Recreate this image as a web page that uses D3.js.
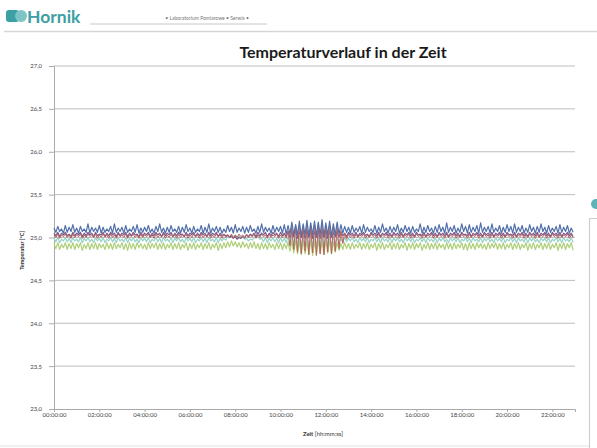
<!DOCTYPE html>
<html>
<head>
<meta charset="utf-8">
<script src="https://cdn.jsdelivr.net/npm/d3@7"></script>
<style>
  body { margin: 0; background: #fff; }
  svg { display: block; font-family: "Lato", "Open Sans", sans-serif; }
</style>
</head>
<body>
<svg id="chart"></svg>
<script>
// logger sample interval in minutes (00:00:00 .. 22:55:00)
const sampleMinutes = 5;

const yTicks = [23.0, 23.5, 24.0, 24.5, 25.0, 25.5, 26.0, 26.5, 27.0];

const sensorBlue = [
  25.11,25.06,25.13,25.07,25.10,25.05,25.14,25.06,25.12,25.07,
  25.15,25.06,25.11,25.05,25.13,25.07,25.10,25.06,25.16,25.05,
  25.12,25.07,25.11,25.06,25.14,25.05,25.12,25.06,25.10,25.07,
  25.13,25.05,25.16,25.06,25.11,25.07,25.12,25.05,25.14,25.06,
  25.10,25.07,25.13,25.06,25.15,25.05,25.11,25.06,25.12,25.07,
  25.14,25.06,25.10,25.05,25.13,25.07,25.16,25.06,25.11,25.05,
  25.12,25.06,25.14,25.07,25.10,25.06,25.13,25.05,25.12,25.06,
  25.15,25.07,25.11,25.05,25.13,25.06,25.10,25.07,25.14,25.05,
  25.12,25.06,25.16,25.05,25.11,25.07,25.13,25.06,25.12,25.05,
  25.10,25.06,25.14,25.07,25.12,25.05,25.15,25.06,25.11,25.07,
  25.13,25.05,25.12,25.06,25.14,25.07,25.10,25.05,25.13,25.06,
  25.16,25.06,25.12,25.07,25.11,25.05,25.14,25.06,25.12,25.07,
  25.13,25.05,25.15,25.04,25.14,25.04,25.18,25.03,25.15,25.03,
  25.19,25.02,25.16,25.03,25.20,25.02,25.17,25.03,25.19,25.02,
  25.18,25.03,25.21,25.02,25.17,25.03,25.19,25.02,25.16,25.03,
  25.18,25.04,25.15,25.05,25.13,25.06,25.12,25.05,25.14,25.06,
  25.11,25.07,25.13,25.05,25.15,25.06,25.12,25.07,25.10,25.06,
  25.14,25.05,25.12,25.06,25.16,25.07,25.11,25.05,25.13,25.06,
  25.12,25.07,25.15,25.05,25.11,25.06,25.14,25.07,25.12,25.05,
  25.13,25.06,25.10,25.07,25.16,25.05,25.12,25.06,25.14,25.07,
  25.11,25.05,25.13,25.06,25.15,25.07,25.12,25.05,25.17,25.06,
  25.12,25.07,25.14,25.05,25.11,25.06,25.16,25.07,25.13,25.05,
  25.15,25.06,25.12,25.07,25.14,25.05,25.17,25.06,25.12,25.07,
  25.13,25.05,25.16,25.06,25.11,25.07,25.14,25.05,25.12,25.06,
  25.15,25.07,25.13,25.05,25.16,25.06,25.12,25.07,25.14,25.05,
  25.11,25.06,25.15,25.07,25.12,25.05,25.13,25.06,25.16,25.07,
  25.12,25.05,25.14,25.06,25.11,25.07,25.13,25.05,25.15,25.06,
  25.12,25.07,25.14,25.05,25.11,25.06
];

const sensorPurple = [
  25.05,25.02,25.06,25.01,25.05,25.03,25.06,25.02,25.04,25.01,
  25.06,25.02,25.05,25.03,25.06,25.01,25.05,25.02,25.06,25.03,
  25.05,25.01,25.06,25.02,25.04,25.03,25.06,25.01,25.05,25.02,
  25.06,25.03,25.05,25.01,25.06,25.02,25.05,25.03,25.06,25.01,
  25.05,25.02,25.06,25.03,25.04,25.01,25.06,25.02,25.05,25.03,
  25.06,25.01,25.05,25.02,25.06,25.03,25.05,25.01,25.06,25.02,
  25.05,25.03,25.06,25.01,25.05,25.02,25.06,25.03,25.04,25.01,
  25.06,25.02,25.05,25.03,25.06,25.01,25.05,25.02,25.06,25.03,
  25.05,25.01,25.06,25.02,25.05,25.03,25.06,25.01,25.05,25.02,
  25.04,25.02,25.03,25.00,25.02,24.99,25.01,24.98,25.00,24.99,
  25.01,25.00,25.03,25.01,25.04,25.02,25.05,25.01,25.06,25.02,
  25.05,25.03,25.06,25.01,25.05,25.02,25.06,25.03,25.05,25.01,
  25.06,25.02,25.05,25.01,25.07,25.00,25.06,25.01,25.08,24.99,
  25.07,25.00,25.08,24.99,25.07,25.00,25.08,24.99,25.07,25.00,
  25.08,24.99,25.07,25.00,25.08,24.99,25.07,25.00,25.06,25.01,
  25.07,25.01,25.06,25.02,25.05,25.01,25.06,25.03,25.05,25.02,
  25.06,25.01,25.05,25.03,25.06,25.02,25.04,25.01,25.06,25.03,
  25.05,25.02,25.06,25.01,25.05,25.03,25.06,25.02,25.05,25.01,
  25.06,25.03,25.05,25.02,25.06,25.01,25.05,25.03,25.06,25.02,
  25.05,25.01,25.06,25.03,25.04,25.02,25.06,25.01,25.05,25.03,
  25.06,25.02,25.05,25.01,25.06,25.03,25.05,25.02,25.06,25.01,
  25.05,25.03,25.06,25.02,25.05,25.01,25.06,25.03,25.04,25.02,
  25.06,25.01,25.05,25.03,25.06,25.02,25.05,25.01,25.06,25.03,
  25.05,25.02,25.06,25.01,25.05,25.03,25.06,25.02,25.05,25.01,
  25.06,25.03,25.04,25.02,25.06,25.01,25.05,25.03,25.06,25.02,
  25.05,25.01,25.06,25.03,25.05,25.02,25.06,25.01,25.05,25.03,
  25.06,25.02,25.05,25.01,25.06,25.03,25.05,25.02,25.06,25.01,
  25.05,25.03,25.06,25.02,25.05,25.01
];

const sensorRed = [
  25.03,25.00,25.04,24.99,25.03,25.01,25.04,25.00,25.03,24.99,
  25.04,25.00,25.03,25.01,25.04,24.99,25.03,25.00,25.04,25.01,
  25.03,25.00,25.04,24.99,25.03,25.00,25.04,25.01,25.03,24.99,
  25.04,25.00,25.03,24.99,25.04,25.01,25.03,25.00,25.04,24.99,
  25.03,25.01,25.04,25.00,25.03,24.99,25.04,25.00,25.03,25.01,
  25.04,25.00,25.03,24.99,25.04,25.00,25.03,25.01,25.04,24.99,
  25.03,25.00,25.04,25.01,25.03,24.99,25.04,25.00,25.03,25.01,
  25.04,24.99,25.03,25.00,25.04,25.01,25.03,24.99,25.04,25.00,
  25.03,25.01,25.04,24.99,25.03,25.00,25.04,25.01,25.03,24.99,
  25.04,25.00,25.03,25.01,25.04,24.99,25.03,25.00,25.04,25.01,
  25.03,24.99,25.04,25.00,25.03,25.01,25.04,24.99,25.03,25.00,
  25.04,25.01,25.03,24.99,25.04,25.00,25.03,25.01,25.04,24.99,
  25.03,25.00,25.04,24.99,25.08,24.90,25.12,24.86,25.14,24.83,
  25.15,24.81,25.13,24.84,25.16,24.80,25.14,24.82,25.17,24.79,
  25.15,24.81,25.16,24.80,25.14,24.83,25.16,24.81,25.13,24.84,
  25.12,24.87,25.08,24.93,25.05,24.98,25.04,25.00,25.03,24.99,
  25.04,25.00,25.03,25.01,25.04,24.99,25.03,25.00,25.04,25.01,
  25.03,24.99,25.04,25.00,25.03,25.01,25.04,24.99,25.03,25.00,
  25.04,25.01,25.03,24.99,25.04,25.00,25.03,25.01,25.04,24.99,
  25.03,25.00,25.04,25.01,25.03,24.99,25.04,25.00,25.03,25.01,
  25.04,24.99,25.03,25.00,25.04,25.01,25.03,24.99,25.04,25.00,
  25.03,25.01,25.04,24.99,25.03,25.00,25.04,25.01,25.03,24.99,
  25.04,25.00,25.03,25.01,25.04,24.99,25.03,25.00,25.04,25.01,
  25.03,24.99,25.04,25.00,25.03,25.01,25.04,24.99,25.03,25.00,
  25.04,25.01,25.03,24.99,25.04,25.00,25.03,25.01,25.04,24.99,
  25.03,25.00,25.04,25.01,25.03,24.99,25.04,25.00,25.03,25.01,
  25.04,24.99,25.03,25.00,25.04,25.01,25.03,24.99,25.04,25.00,
  25.03,25.01,25.04,24.99,25.03,25.00
];

const sensorAqua = [
  24.99,24.95,25.00,24.94,24.98,24.96,25.00,24.95,24.99,24.94,
  25.00,24.96,24.98,24.95,25.00,24.94,24.99,24.96,25.00,24.95,
  24.98,24.94,25.00,24.96,24.99,24.95,25.00,24.94,24.98,24.96,
  25.00,24.95,24.99,24.94,25.00,24.96,24.98,24.95,25.00,24.94,
  24.99,24.96,25.00,24.95,24.98,24.94,25.00,24.96,24.99,24.95,
  25.00,24.94,24.98,24.96,25.00,24.95,24.99,24.94,25.00,24.96,
  24.98,24.95,25.00,24.94,24.99,24.96,25.00,24.95,24.98,24.94,
  25.00,24.96,24.99,24.95,25.00,24.94,24.98,24.96,25.00,24.95,
  24.99,24.94,25.00,24.96,24.98,24.95,25.00,24.94,24.99,24.96,
  24.99,24.97,25.01,25.00,25.02,25.01,25.03,25.00,25.02,24.99,
  25.01,24.98,24.99,24.96,24.98,24.97,25.00,25.02,25.01,24.98,
  24.99,24.95,25.00,24.94,24.99,24.96,25.00,24.95,24.99,24.94,
  25.00,24.95,24.99,24.94,25.01,24.92,25.02,24.90,25.03,24.89,
  25.02,24.88,25.03,24.89,25.02,24.88,25.03,24.89,25.02,24.88,
  25.03,24.89,25.02,24.88,25.03,24.89,25.02,24.90,25.01,24.92,
  25.00,24.93,24.99,24.94,25.00,24.95,24.99,24.96,25.00,24.95,
  24.98,24.94,25.00,24.96,24.99,24.95,25.00,24.94,24.98,24.96,
  25.00,24.95,24.99,24.94,25.00,24.96,24.98,24.95,25.00,24.94,
  24.99,24.96,25.00,24.95,24.98,24.94,25.00,24.96,24.99,24.95,
  25.00,24.94,24.98,24.96,25.00,24.95,24.99,24.94,25.00,24.96,
  24.98,24.95,25.00,24.94,24.99,24.96,25.00,24.95,24.98,24.94,
  25.00,24.96,24.99,24.95,25.00,24.94,24.98,24.96,25.00,24.95,
  24.99,24.94,25.00,24.96,24.98,24.95,25.00,24.94,24.99,24.96,
  25.00,24.95,24.98,24.94,25.00,24.96,24.99,24.95,25.00,24.94,
  24.98,24.96,25.00,24.95,24.99,24.94,25.00,24.96,24.98,24.95,
  25.00,24.94,24.99,24.96,25.00,24.95,24.98,24.94,25.00,24.96,
  24.99,24.95,25.00,24.94,24.98,24.96,25.00,24.95,24.99,24.94,
  25.00,24.96,24.98,24.95,25.00,24.94
];

const sensorGreen = [
  24.93,24.87,24.94,24.86,24.92,24.88,24.94,24.86,24.93,24.87,
  24.94,24.86,24.93,24.88,24.94,24.85,24.92,24.87,24.94,24.86,
  24.93,24.87,24.94,24.86,24.93,24.88,24.92,24.86,24.94,24.87,
  24.93,24.86,24.94,24.87,24.92,24.88,24.94,24.86,24.93,24.85,
  24.94,24.87,24.93,24.86,24.94,24.88,24.93,24.87,24.92,24.86,
  24.94,24.87,24.93,24.88,24.94,24.86,24.93,24.87,24.94,24.86,
  24.92,24.88,24.94,24.86,24.93,24.87,24.94,24.86,24.92,24.88,
  24.94,24.85,24.93,24.87,24.94,24.86,24.92,24.88,24.94,24.86,
  24.93,24.87,24.94,24.86,24.92,24.88,24.94,24.85,24.93,24.87,
  24.94,24.88,24.95,24.89,24.96,24.90,24.95,24.89,24.94,24.88,
  24.95,24.89,24.93,24.87,24.94,24.88,24.95,24.87,24.93,24.86,
  24.94,24.87,24.93,24.86,24.94,24.88,24.92,24.86,24.94,24.87,
  24.94,24.86,24.93,24.87,24.95,24.84,24.96,24.82,24.97,24.81,
  24.96,24.80,24.97,24.81,24.96,24.80,24.97,24.79,24.96,24.80,
  24.97,24.81,24.96,24.80,24.97,24.82,24.96,24.81,24.95,24.83,
  24.94,24.85,24.93,24.86,24.94,24.87,24.93,24.86,24.94,24.87,
  24.92,24.88,24.94,24.86,24.93,24.87,24.94,24.86,24.92,24.88,
  24.94,24.85,24.93,24.87,24.94,24.86,24.92,24.88,24.94,24.86,
  24.93,24.87,24.94,24.86,24.92,24.88,24.94,24.85,24.93,24.87,
  24.94,24.86,24.93,24.88,24.94,24.85,24.92,24.87,24.94,24.86,
  24.93,24.87,24.94,24.86,24.93,24.88,24.92,24.86,24.94,24.87,
  24.93,24.86,24.94,24.87,24.92,24.88,24.94,24.86,24.93,24.85,
  24.94,24.87,24.93,24.86,24.94,24.88,24.93,24.87,24.92,24.86,
  24.94,24.87,24.93,24.88,24.94,24.86,24.93,24.87,24.94,24.86,
  24.92,24.88,24.94,24.86,24.93,24.87,24.94,24.86,24.92,24.88,
  24.94,24.85,24.93,24.87,24.94,24.86,24.92,24.88,24.94,24.86,
  24.93,24.87,24.94,24.86,24.92,24.88,24.94,24.85,24.93,24.87,
  24.94,24.86,24.93,24.88,24.94,24.85
];

const seriesList = [
  { name: "Fühler 5", values: sensorGreen, color: "#afcf78", w: 1.2 },
  { name: "Fühler 4", values: sensorAqua, color: "#96d2c8", w: 1.2 },
  { name: "Fühler 3", values: sensorPurple, color: "#7d5a8e", w: 1.2 },
  { name: "Fühler 2", values: sensorRed, color: "#b9625e", w: 1.0 },
  { name: "Fühler 1", values: sensorBlue, color: "#5270aa", w: 1.2 }
];

const width = 597, height = 448;
const margin_left = 54, margin_right = 22, margin_top = 66, margin_bottom = 39;
const effective_width = width - margin_left - margin_right;
const effective_height = height - margin_top - margin_bottom;

const svg = d3.select("#chart").attr("width", width).attr("height", height);

// ---- page header (logo + separator lines) ----
const header = svg.append("g");
header.append("rect").attr("x", 6).attr("y", 10).attr("width", 13).attr("height", 12)
  .attr("rx", 3).attr("fill", "#3c9fa3");
header.append("circle").attr("cx", 21).attr("cy", 16).attr("r", 6).attr("fill", "#7cc4c6");
header.append("text").attr("x", 27).attr("y", 22.5)
  .style("font-size", "17.5px").style("font-weight", "bold").attr("fill", "#3c9fa3")
  .text("Hornik");
header.append("line").attr("x1", 90).attr("x2", 267).attr("y1", 24).attr("y2", 24)
  .attr("stroke", "#c8c8c8").attr("stroke-width", 1);
header.append("text").attr("x", 207).attr("y", 20).attr("text-anchor", "middle")
  .style("font-size", "5px").attr("fill", "#777")
  .text("• Laboratorium Pomiarowe • Serwis •");
header.append("line").attr("x1", 4).attr("x2", width).attr("y1", 31.5).attr("y2", 31.5)
  .attr("stroke", "#d6d6d6").attr("stroke-width", 1.5);

// side panel edge on the right
svg.append("circle").attr("cx", 596).attr("cy", 204).attr("r", 5).attr("fill", "#5fb3b7");
svg.append("path").attr("d", "M589.5,448 V218.5 H597")
  .attr("fill", "none").attr("stroke", "#cfcfcf").attr("stroke-width", 1.2);
svg.append("line").attr("x1", 0).attr("x2", 589).attr("y1", 446).attr("y2", 446)
  .attr("stroke", "#e2e2e2").attr("stroke-width", 1);

// ---- title ----
svg.append("text").attr("x", 343).attr("y", 58).attr("text-anchor", "middle")
  .style("font-size", "16px").style("font-weight", "bold").attr("fill", "#1a1a1a")
  .text("Temperaturverlauf in der Zeit");

const plot = svg.append("g").attr("transform", "translate(" + margin_left + "," + margin_top + ")");

const t0 = new Date(2012, 0, 1, 0, 0, 0);
const xAxis = d3.scaleTime()
  .domain([t0, d3.timeMinute.offset(t0, 23 * 60)])
  .range([0, effective_width]);
const yAxis = d3.scaleLinear().domain([23, 27]).range([effective_height, 0]);

// horizontal gridlines
plot.append("g").selectAll("line").data(yTicks.slice(1)).enter().append("line")
  .attr("x1", 0).attr("x2", effective_width)
  .attr("y1", d => yAxis(d)).attr("y2", d => yAxis(d))
  .attr("stroke", "#bdbdbd").attr("stroke-width", 1);

const fmtY = d => d3.format(".1f")(d).replace(".", ",");

const gy = plot.append("g")
  .call(d3.axisLeft(yAxis).tickValues(yTicks).tickFormat(fmtY).tickSize(5).tickPadding(7));
gy.select(".domain").attr("stroke", "#aaa");
gy.selectAll(".tick line").attr("stroke", "#aaa");
gy.selectAll(".tick text").style("font-size", "6px").attr("fill", "#444")
  .style("font-family", "Lato, sans-serif");

const gx = plot.append("g").attr("transform", "translate(0," + effective_height + ")")
  .call(d3.axisBottom(xAxis).ticks(d3.timeHour.every(2)).tickFormat(d3.timeFormat("%H:%M:%S"))
    .tickSize(3).tickPadding(1));
gx.select(".domain").attr("stroke", "#aaa");
gx.selectAll(".tick line").attr("stroke", "#aaa");
gx.selectAll(".tick text").style("font-size", "6px").attr("fill", "#444")
  .style("font-family", "Lato, sans-serif");

// axis titles
svg.append("text")
  .attr("transform", "translate(24," + (margin_top + yAxis(24.85)) + ") rotate(-90)")
  .attr("text-anchor", "middle").style("font-size", "5.5px").style("font-weight", "bold")
  .attr("fill", "#333").text("Temperatur [°C]");

const xTitle = svg.append("text").attr("x", 323).attr("y", 436).attr("text-anchor", "middle")
  .style("font-size", "6px").attr("fill", "#333");
xTitle.append("tspan").style("font-weight", "bold").text("Zeit ");
xTitle.append("tspan").text("[hh:mm:ss]");

// ---- series ----
const line = d3.line()
  .x((d, i) => xAxis(d3.timeMinute.offset(t0, i * sampleMinutes)))
  .y(d => yAxis(d));

plot.append("g").selectAll("path").data(seriesList).enter().append("path")
  .attr("d", d => line(d.values))
  .attr("fill", "none")
  .attr("stroke", d => d.color)
  .attr("stroke-width", d => d.w)
  .attr("stroke-linejoin", "round");
</script>
</body>
</html>
